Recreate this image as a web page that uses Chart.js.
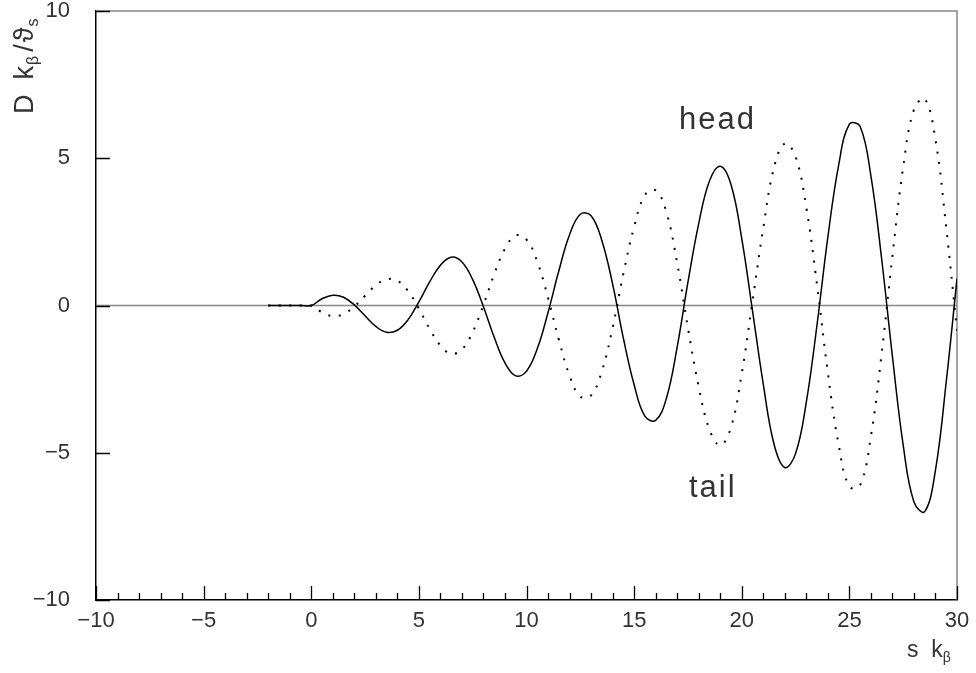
<!DOCTYPE html>
<html>
<head>
<meta charset="utf-8">
<title>D k_beta / theta_s vs s k_beta</title>
<script src="https://cdn.jsdelivr.net/npm/chart.js@4.4.1/dist/chart.umd.min.js"></script>
<style>
    html, body { margin: 0; padding: 0; background: #fff; }
    #wrap { width: 976px; height: 673px; }
</style>
</head>
<body>
<div id="wrap"><canvas id="waveChart" width="976" height="673"></canvas></div>
<script>
// s k_beta positions (shared by both curves)
const sKb = [
    -2, -1.5, -1, -0.5, 0, 0.5, 1, 1.5, 2, 2.5, 3, 3.5, 4, 4.5, 5, 5.5, 6, 6.5, 7, 7.5,
    8, 8.5, 9, 9.5, 10, 10.5, 11, 11.5, 12, 12.5, 13, 13.5, 14, 14.5, 15, 15.5, 16, 16.5,
    17, 17.5, 18, 18.5, 19, 19.5, 20, 20.5, 21, 21.5, 22, 22.5, 23, 23.5, 24, 24.5, 25,
    25.5, 26, 26.5, 27, 27.5, 28, 28.5, 29, 29.5, 30
];

// solid curve ("head")
const headD = [
    0, 0, 0, 0, 0, 0.23, 0.35, 0.28, 0.02, -0.35, -0.71, -0.91, -0.84, -0.48, 0.12, 0.80,
    1.37, 1.64, 1.48, 0.88, -0.04, -1.08, -1.95, -2.39, -2.23, -1.47, -0.24, 1.17, 2.40,
    3.10, 3.05, 2.21, 0.73, -1.11, -2.69, -3.76, -3.90, -3.15, -1.41, 0.79, 2.78, 4.23,
    4.73, 4.11, 2.27, -0.18, -2.67, -4.71, -5.50, -5.03, -3.28, -0.64, 2.32, 4.76, 6.16,
    6.08, 4.40, 1.58, -1.73, -4.74, -6.67, -7.00, -5.59, -2.59, 0.91
];

// dotted curve ("tail")
const tailD = [
    0, 0, 0, 0, 0, -0.23, -0.36, -0.29, -0.03, 0.33, 0.69, 0.89, 0.84, 0.49, -0.11, -0.79,
    -1.36, -1.64, -1.49, -0.90, 0.02, 1.06, 1.93, 2.38, 2.24, 1.49, 0.26, -1.15, -2.38,
    -3.09, -3.05, -2.23, -0.76, 1.08, 2.67, 3.75, 3.91, 3.17, 1.44, -0.76, -2.76, -4.21,
    -4.74, -4.14, -2.31, 0.14, 2.63, 4.69, 5.50, 5.06, 3.32, 0.69, -2.28, -4.72, -6.15,
    -6.10, -4.44, -1.63, 1.68, 4.70, 6.65, 7.02, 5.63, 2.64, -0.85
];

const xMajor = [-10, -5, 0, 5, 10, 15, 20, 25, 30];
const yMajor = [-10, -5, 0, 5, 10];

const FONT = '"Liberation Sans", Arial, Helvetica, sans-serif';
const TEXT = '#333';

function fmtTick(v) {
    return v < 0 ? '\u2212' + Math.abs(v) : String(v);
}

// draws a row of text pieces (sub-scripts shifted down)
function drawRuns(ctx, runs, x, y) {
    let cx = x;
    runs.forEach(r => {
        ctx.font = r.size + 'px ' + FONT;
        ctx.fillText(r.t, cx, y + (r.dy || 0));
        cx += ctx.measureText(r.t).width + (r.gap || 0);
    });
}

const axisDecor = {
    id: 'axisDecor',
    beforeDatasetsDraw(chart) {
        const {ctx, chartArea: a, scales: {y}} = chart;
        ctx.save();
        ctx.strokeStyle = '#888';
        ctx.lineWidth = 1.5;
        ctx.beginPath();
        ctx.moveTo(a.left, a.top);
        ctx.lineTo(a.right, a.top);
        ctx.lineTo(a.right, a.bottom);
        const y0 = y.getPixelForValue(0);
        ctx.moveTo(a.left, y0);
        ctx.lineTo(a.right, y0);
        ctx.stroke();
        ctx.restore();
    },
    afterDraw(chart) {
        const {ctx, chartArea: a, scales: {x, y}} = chart;
        ctx.save();
        ctx.strokeStyle = '#000';
        ctx.lineWidth = 1.3;
        ctx.beginPath();
        // inward ticks on x axis: every unit, longer on the labelled ones
        for (let v = x.min; v <= x.max; v++) {
            const px = Math.round(x.getPixelForValue(v)) + 0.5;
            const len = xMajor.includes(v) ? 14 : 7;
            ctx.moveTo(px, a.bottom);
            ctx.lineTo(px, a.bottom - len);
        }
        yMajor.forEach(v => {
            const py = Math.round(y.getPixelForValue(v)) + 0.5;
            ctx.moveTo(a.left, py);
            ctx.lineTo(a.left + 14, py);
        });
        ctx.stroke();

        ctx.fillStyle = TEXT;
        ctx.textBaseline = 'alphabetic';
        ctx.textAlign = 'left';

        // x title: s k_beta
        drawRuns(ctx, [
            {t: 's  k', size: 23},
            {t: '\u03B2', size: 14, dy: 5}
        ], 907, 657);

        // y title: D k_beta / theta_s  (rotated)
        ctx.save();
        ctx.translate(33, 114);
        ctx.rotate(-Math.PI / 2);
        drawRuns(ctx, [
            {t: 'D  k', size: 27, gap: 1},
            {t: '\u03B2', size: 16, dy: 5, gap: 4},
            {t: '/', size: 27, gap: 2},
            {t: '\u03D1', size: 27, gap: 1},
            {t: 's', size: 16, dy: 5}
        ], 0, 0);
        ctx.restore();

        // curve labels
        if ('letterSpacing' in ctx) ctx.letterSpacing = '2px';
        ctx.font = '31px ' + FONT;
        ctx.fillText('head', 679, 129);
        ctx.fillText('tail', 689, 497);
        ctx.restore();
    }
};

document.addEventListener('DOMContentLoaded', function () {
    const canvas = document.getElementById('waveChart');

    new Chart(canvas, {
        type: 'line',
        data: {
            datasets: [{
                    label: 'head',
                    data: sKb.map((s, i) => ({x: s, y: headD[i]})),
                    borderColor: '#000',
                    borderWidth: 1.5,
                    pointRadius: 0,
                    tension: 0.4,
                    fill: false
                }, {
                    label: 'tail',
                    data: sKb.map((s, i) => ({x: s, y: tailD[i]})),
                    borderColor: '#000',
                    borderWidth: 2,
                    borderDash: [2, 8.5],
                    pointRadius: 0,
                    tension: 0.4,
                    fill: false
                }]
        },
        options: {
            responsive: false,
            animation: false,
            layout: {padding: {top: 11, right: 19, left: 0, bottom: 0}},
            plugins: {
                legend: {display: false},
                tooltip: {enabled: false}
            },
            scales: {
                x: {
                    type: 'linear',
                    min: -10,
                    max: 30,
                    afterFit: s => {
                        s.height = 73;
                        s.paddingLeft = 0;
                        s.paddingRight = 0;
                    },
                    grid: {display: false},
                    border: {display: true, color: '#000', width: 1.5},
                    ticks: {
                        stepSize: 5,
                        padding: 0,
                        maxRotation: 0,
                        color: TEXT,
                        font: {size: 22, family: FONT},
                        callback: fmtTick
                    }
                },
                y: {
                    type: 'linear',
                    min: -10,
                    max: 10,
                    afterFit: s => {
                        s.width = 96;
                        s.paddingTop = 0;
                        s.paddingBottom = 0;
                    },
                    grid: {display: false},
                    border: {display: true, color: '#000', width: 1.5},
                    ticks: {
                        stepSize: 5,
                        padding: 18,
                        color: TEXT,
                        font: {size: 22, family: FONT},
                        callback: fmtTick
                    }
                }
            }
        },
        plugins: [axisDecor]
    });
});
</script>
</body>
</html>
